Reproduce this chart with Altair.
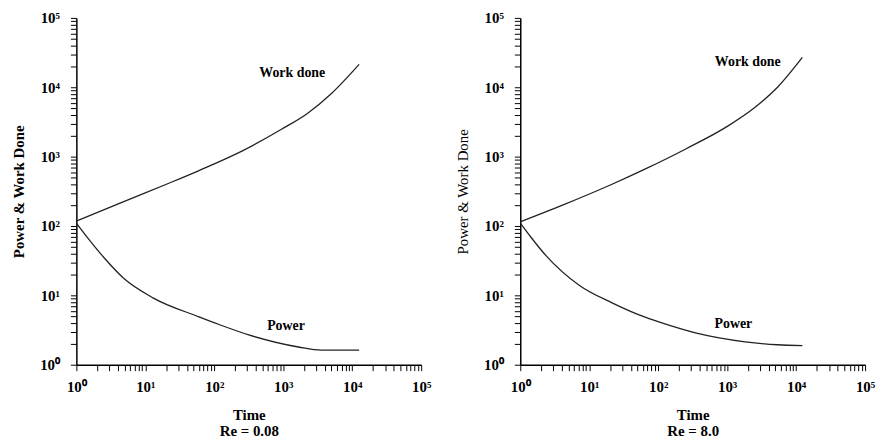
import altair as alt
import pandas as pd

# ---- data (Re = 0.08, left panel) ----
work_t_left = [1, 4.3, 22.4, 60, 251, 955, 2240, 5000, 12600]
work_v_left = [118, 214, 417, 630, 1200, 2500, 4200, 8130, 21400]
power_t_left = [1, 1.43, 2.45, 4.8, 12.9, 60, 117, 316, 1660, 3550, 12600]
power_v_left = [110, 69, 36, 17.8, 9.2, 4.9, 3.8, 2.69, 1.80, 1.62, 1.62]

# ---- data (Re = 8.0, right panel) ----
work_t_right = [1, 4.1, 21.4, 67.6, 251, 1047, 2512, 5370, 12300]
work_v_right = [115, 200, 400, 676, 1290, 2800, 5100, 10000, 26900]
power_t_right = [1, 1.41, 2.38, 7.13, 21.4, 67.6, 110, 347, 1820, 5370, 12300]
power_v_right = [110, 70, 37, 14, 7.8, 4.76, 4.04, 2.88, 2.14, 1.94, 1.89]

# ---- curve labels (position in data units) ----
label_names = ["Work done", "Power"]
label_t_left = [1350, 1096]
label_v_left = [16200, 3.63]
label_t_right = [1990, 1230]
label_v_right = [23400, 3.83]

panel_titles = [["Time", "Re = 0.08"], ["Time", "Re = 8.0"]]

tick_values = [m * 10 ** e for e in range(0, 5) for m in range(1, 10)] + [100000]

FONT = "Liberation Serif"
is_decade = "abs(log(datum.value)/LN10 - round(log(datum.value)/LN10)) < 1e-6"
label_expr = ("(" + is_decade + ") ? '10' + ['\u2070','\u00b9','\u00b2','\u00b3','\u2074','\u2075']"
              "[round(log(datum.value)/LN10)] : ''")


def make_axis(title, title_weight, title_pad, label_pad):
    return alt.Axis(
        title=title,
        values=tick_values,
        labelExpr=label_expr,
        labelFont=FONT,
        labelFontSize=15,
        labelFontWeight="bold",
        labelColor="black",
        labelOverlap=False,
        labelFlush=False,
        labelPadding=label_pad,
        titleFont=FONT,
        titleFontSize=15,
        titleFontWeight=title_weight,
        titleColor="black",
        titlePadding=title_pad,
        titleLineHeight=16,
        domainColor="black",
        domainWidth=1.5,
        tickColor="black",
        tickOpacity=1,
        tickWidth=1,
        tickSize=6,
        ticks=True,
        grid=False,
    )


def panel(wt, wv, pt, pv, lt, lv, xtitle, ytitle_weight):
    lines = pd.DataFrame({
        "t": wt + pt,
        "v": wv + pv,
        "series": ["Work done"] * len(wt) + ["Power"] * len(pt),
    })
    labels = pd.DataFrame({"t": lt, "v": lv, "name": label_names})
    xs = alt.Scale(type="log", domain=[1, 100000], nice=False)
    ys = alt.Scale(type="log", domain=[1, 100000], nice=False)
    xax = make_axis(xtitle, "bold", 13, 9)
    yax = make_axis("Power & Work Done", ytitle_weight, 13, 11)
    line = alt.Chart(lines).mark_line(color="#222222", strokeWidth=1.3, interpolate="monotone").encode(
        x=alt.X("t:Q", scale=xs, axis=xax),
        y=alt.Y("v:Q", scale=ys, axis=yax),
        detail="series:N",
    )
    text = alt.Chart(labels).mark_text(font=FONT, fontSize=14, fontWeight="bold", color="black").encode(
        x=alt.X("t:Q", scale=xs, axis=xax),
        y=alt.Y("v:Q", scale=ys, axis=yax),
        text="name:N",
    )
    return alt.layer(line, text).properties(width=348, height=350)


left = panel(work_t_left, work_v_left, power_t_left, power_v_left,
             label_t_left, label_v_left, panel_titles[0], "bold")
right = panel(work_t_right, work_v_right, power_t_right, power_v_right,
              label_t_right, label_v_right, panel_titles[1], "normal")

chart = alt.hconcat(left, right, spacing=23).properties(
    padding={"left": 3, "top": 0, "right": 0, "bottom": 0}
).configure(background="white").configure_view(stroke="transparent")

chart.save("out.html", embed_options={"renderer": "svg", "actions": False})
